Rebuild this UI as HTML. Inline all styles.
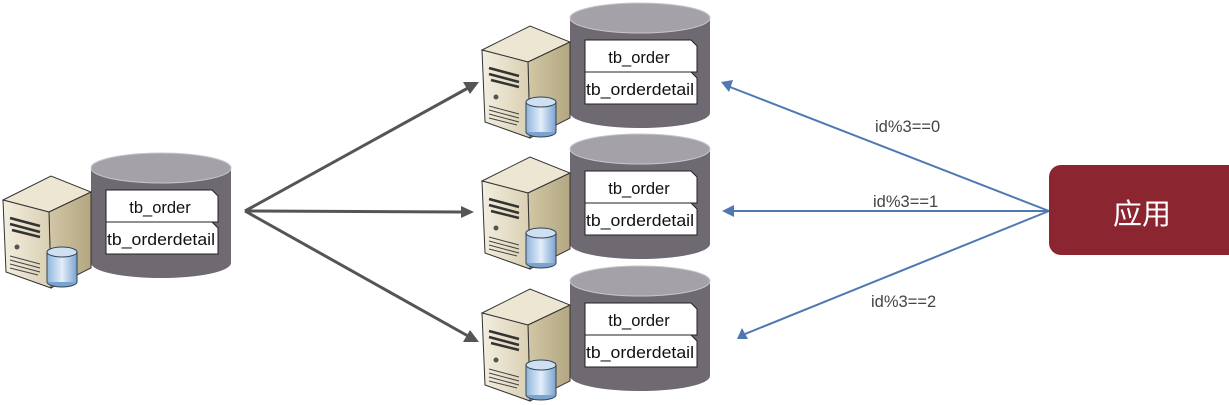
<!DOCTYPE html>
<html><head><meta charset="utf-8"><style>
html,body{margin:0;padding:0;background:#fff;width:1229px;height:405px;overflow:hidden}
</style></head><body>
<svg width="1229" height="405" viewBox="0 0 1229 405" xmlns="http://www.w3.org/2000/svg">
<defs>
<linearGradient id="cream" x1="0" x2="1"><stop offset="0" stop-color="#f3eee0"/><stop offset="1" stop-color="#d9cfb2"/></linearGradient>
<linearGradient id="side" x1="0" x2="1"><stop offset="0" stop-color="#d2c7a6"/><stop offset="1" stop-color="#b3a681"/></linearGradient>
<linearGradient id="blue" x1="0" x2="1"><stop offset="0" stop-color="#8fb4dc"/><stop offset="0.5" stop-color="#e3eefa"/><stop offset="1" stop-color="#7aa3d0"/></linearGradient>
<g id="node">
  <rect x="570" y="18" width="140" height="95" fill="#6f6a72"/>
  <ellipse cx="640" cy="113" rx="70" ry="15" fill="#6f6a72"/>
  <ellipse cx="640" cy="18" rx="70" ry="15" fill="#a5a1a8" stroke="#c9c6cb" stroke-width="1"/>
  <path d="M585 40 H691 L697 46 V72 H585 Z" fill="#fff" stroke="#222" stroke-width="1"/>
  <path d="M585 72 H691 L697 78 V104 H585 Z" fill="#fff" stroke="#222" stroke-width="1"/>
  <text x="639" y="63" font-family="Liberation Sans, sans-serif" font-size="16.5" text-anchor="middle" fill="#111">tb_order</text>
  <text x="640" y="95" font-family="Liberation Sans, sans-serif" font-size="16.5" text-anchor="middle" fill="#111" textLength="108" lengthAdjust="spacingAndGlyphs">tb_orderdetail</text>
  <polygon points="482,50 530,26 570,42 528,62" fill="#ece6d2" stroke="#333" stroke-width="1"/>
  <polygon points="528,62 570,42 570,118 530,138" fill="url(#side)" stroke="#333" stroke-width="1"/>
  <polygon points="482,50 528,62 530,138 485,122" fill="url(#cream)" stroke="#333" stroke-width="1"/>
  <path d="M489 68 l30 8 M489 74 l30 8 M491 80 l28 7" stroke="#333" stroke-width="2.5"/>
  <circle cx="496" cy="97" r="2.5" fill="#555"/>
  <path d="M489 106 l30 8 M489 110 l30 8 M489 114 l30 8 M489 118 l28 7" stroke="#444" stroke-width="1"/>
  <rect x="526" y="102" width="30" height="30" fill="url(#blue)"/>
  <path d="M526 102 V132 M556 102 V132" stroke="#345" stroke-width="1"/>
  <path d="M526 132 a15 5 0 0 0 30 0" fill="#7aa3d0" stroke="#345" stroke-width="1"/>
  <ellipse cx="541" cy="102" rx="15" ry="5" fill="#cfe0f2" stroke="#345" stroke-width="1"/>
</g>
</defs>
<use href="#node"/>
<use href="#node" transform="translate(0,131)"/>
<use href="#node" transform="translate(0,263)"/>
<use href="#node" transform="translate(-479,150)"/>
<g stroke="#555" stroke-width="3" fill="#555">
  <line x1="245" y1="211" x2="468" y2="88"/>
  <line x1="245" y1="211" x2="462" y2="212"/>
  <line x1="245" y1="211" x2="468" y2="336"/>
</g>
<polygon points="479,82 463,82 470,94" fill="#555"/>
<polygon points="474,212 461,206 461,218" fill="#555"/>
<polygon points="479,342 470,330 463,342" fill="#555"/>
<g stroke="#4f78b2" stroke-width="2" fill="none">
  <line x1="1049" y1="211" x2="730" y2="87"/>
  <line x1="1049" y1="211" x2="732" y2="211"/>
  <line x1="1049" y1="211" x2="745" y2="334"/>
</g>
<polygon points="721,82 733,80 729,92" fill="#4f78b2"/>
<polygon points="722,211 734,205 734,217" fill="#4f78b2"/>
<polygon points="737,339 742,328 748,339" fill="#4f78b2"/>
<g font-family="Liberation Sans, sans-serif" font-size="16.5" fill="#444">
  <text x="875" y="132">id%3==0</text>
  <text x="873" y="207">id%3==1</text>
  <text x="871" y="307">id%3==2</text>
</g>
<rect x="1049" y="165" width="200" height="90" rx="12" fill="#8b2630"/>
<text x="1142" y="224" font-family="Liberation Sans, 'Noto Sans CJK SC', sans-serif" font-size="29" fill="#fff" text-anchor="middle">应用</text>
</svg>
</body></html>
